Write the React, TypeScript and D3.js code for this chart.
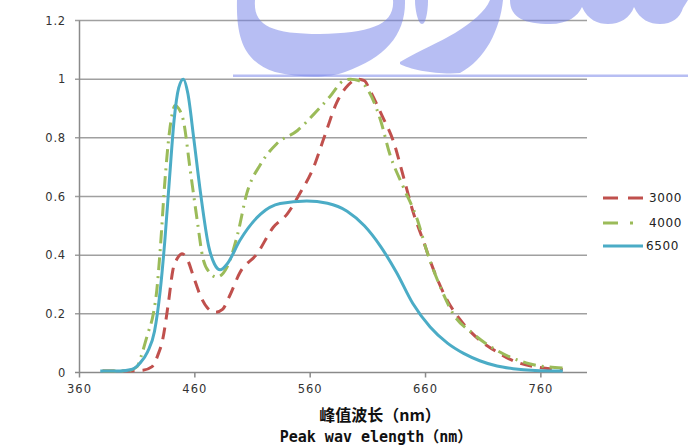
import React from "react";
import * as d3 from "d3";

const xTicks = [360, 460, 560, 660, 760];
const yTicks = [0, 0.2, 0.4, 0.6, 0.8, 1, 1.2];
const yTickLabels = ["0", "0.2", "0.4", "0.6", "0.8", "1", "1.2"];

const seriesNames = ["3000", "4000", "6500"];

const wl3000 = [380, 400, 415, 423, 428, 432, 437, 441, 445, 449, 453, 459, 465, 471, 478, 484, 490, 499, 514, 528, 540, 551, 563, 572, 583, 593, 601, 607, 612, 623, 632, 641, 649, 658, 666, 679, 690, 707, 722, 736, 759, 779];
const v3000 = [0.005, 0.005, 0.008, 0.02, 0.06, 0.11, 0.235, 0.35, 0.39, 0.405, 0.39, 0.325, 0.26, 0.22, 0.205, 0.215, 0.26, 0.34, 0.405, 0.495, 0.54, 0.61, 0.7, 0.8, 0.92, 0.98, 1.0, 0.995, 0.96, 0.87, 0.79, 0.665, 0.55, 0.45, 0.36, 0.245, 0.18, 0.11, 0.07, 0.04, 0.017, 0.01];

const wl4000 = [380, 400, 410, 413, 419, 424, 427, 430, 434, 438, 443, 446, 450, 456, 462, 467, 473, 479, 488, 497, 505, 517, 531, 549, 563, 577, 589, 595, 602, 609, 621, 629, 641, 653, 661, 673, 684, 701, 722, 750, 779];
const v4000 = [0.005, 0.005, 0.02, 0.05, 0.13, 0.2, 0.28, 0.42, 0.65, 0.82, 0.91, 0.9, 0.86, 0.69, 0.52, 0.39, 0.34, 0.325, 0.36, 0.47, 0.61, 0.71, 0.78, 0.825, 0.88, 0.94, 0.995, 1.0, 0.995, 0.97, 0.86, 0.745, 0.63, 0.52, 0.415, 0.29, 0.2, 0.133, 0.075, 0.03, 0.015];

const wl6500 = [378, 395, 405, 412, 419, 425, 430, 434, 438, 442, 446, 450, 454, 459, 465, 472, 477, 482, 488, 499, 517, 534, 557, 575, 592, 607, 621, 635, 649, 664, 679, 693, 707, 722, 736, 755, 779];
const v6500 = [0.005, 0.005, 0.01, 0.03, 0.07, 0.14, 0.28, 0.45, 0.66, 0.86, 0.97, 1.0, 0.95, 0.8, 0.61, 0.43, 0.37, 0.35, 0.37, 0.45, 0.54, 0.576, 0.585, 0.577, 0.55, 0.5, 0.43, 0.34, 0.235, 0.155, 0.1, 0.065, 0.04, 0.022, 0.013, 0.007, 0.005];

const colors = ["#c0504d", "#9bbb59", "#4bacc6"];
const dashes = ["12,8", "13,6,2,6", null];
const legendDashes = ["15,10", "15,12,3,30", null];
const legendEnds = [643, 634, 643];

const WATERMARK = [
  "M237,0 C236,40 245,62 275,72 C300,78 330,78 345,72 C385,58 406,35 405,0 L393,0 C395,25 370,33 320,34 C270,34 253,25 255,0 Z",
  "M415,0 L428,0 C428,10 426,24 422,24 C418,24 415,10 415,0 Z",
  "M400,62 C420,50 440,42 455,33 C472,22 485,12 490,0 L503,0 C500,30 485,60 460,73 C440,75 410,70 400,64 Z",
  "M510,0 C510,18 525,24 550,24 C568,24 578,16 582,7 C588,20 598,24 608,24 C620,24 630,18 634,7 C640,20 650,24 660,24 C672,24 680,18 683,8 L688,0 Z",
];

export default function App() {
  const W = 688;
  const H = 448;
  const x = d3.scaleLinear().domain([360, 800]).range([79.5, 587]);
  const y = d3.scaleLinear().domain([0, 1.2]).range([372.5, 20.5]);

  const series = [
    { wl: wl3000, v: v3000 },
    { wl: wl4000, v: v4000 },
    { wl: wl6500, v: v6500 },
  ];

  const line = d3
    .line<[number, number]>()
    .x((d) => x(d[0]))
    .y((d) => y(d[1]))
    .curve(d3.curveMonotoneX);

  const legendY = [198, 223, 246];
  const tickFont = "'DejaVu Sans', sans-serif";

  return (
    <svg
      width={W}
      height={H}
      style={{ position: "absolute", left: 0, top: 0, background: "#fff" }}
    >
      <rect x={0} y={0} width={W} height={H} fill="#fff" />
      {/* gridlines */}
      {yTicks.map((t, i) =>
        t === 0 ? null : (
          <line
            key={"g" + i}
            x1={75}
            x2={587}
            y1={y(t)}
            y2={y(t)}
            stroke="#a0a0a0"
            strokeWidth={1.5}
          />
        )
      )}
      {/* watermark */}
      <g fill="#6f7de8" fillOpacity={0.5}>
        {WATERMARK.map((d, i) => (
          <path key={"w" + i} d={d} />
        ))}
        <rect x={233} y={74.5} width={455} height={2.5} />
      </g>
      {/* axes */}
      <line x1={x(360)} x2={x(360)} y1={y(1.2)} y2={y(0)} stroke="#8a8a8a" strokeWidth={1.5} />
      <line x1={75} x2={587} y1={y(0)} y2={y(0)} stroke="#8a8a8a" strokeWidth={1.5} />
      {xTicks.map((t) => (
        <line key={"xt" + t} x1={x(t)} x2={x(t)} y1={y(0)} y2={y(0) + 5} stroke="#8a8a8a" strokeWidth={1.5} />
      ))}
      {/* tick labels */}
      {yTicks.map((t, i) => (
        <text
          key={"yl" + i}
          x={66}
          y={y(t)}
          dy="0.36em"
          textAnchor="end"
          fontFamily={tickFont}
          fontSize={11.5}
          letterSpacing={0.8}
          fill="#333"
        >
          {yTickLabels[i]}
        </text>
      ))}
      {xTicks.map((t) => (
        <text
          key={"xl" + t}
          x={x(t)}
          y={389}
          dy="0.36em"
          textAnchor="middle"
          fontFamily={tickFont}
          fontSize={11.5}
          letterSpacing={1}
          fill="#333"
        >
          {t}
        </text>
      ))}
      {/* series */}
      {series.map((s, i) => (
        <path
          key={"s" + i}
          d={line(s.wl.map((w, j) => [w, s.v[j]] as [number, number])) || ""}
          fill="none"
          stroke={colors[i]}
          strokeWidth={3}
          strokeDasharray={dashes[i] || undefined}
          strokeLinejoin="round"
        />
      ))}
      {/* legend */}
      {seriesNames.map((n, i) => (
        <g key={"lg" + i}>
          <line
            x1={603}
            x2={legendEnds[i]}
            y1={legendY[i]}
            y2={legendY[i]}
            stroke={colors[i]}
            strokeWidth={3}
            strokeDasharray={legendDashes[i] || undefined}
          />
          <text
            x={i === 2 ? 646 : 649}
            y={legendY[i]}
            dy="0.36em"
            fontFamily={tickFont}
            fontSize={12}
            letterSpacing={0.6}
            fill="#222"
          >
            {n}
          </text>
        </g>
      ))}
      {/* axis titles */}
      <text
        x={380}
        y={415}
        dy="0.36em"
        textAnchor="middle"
        fontFamily="'Noto Sans CJK SC', 'DejaVu Sans Mono', sans-serif"
        fontWeight="bold"
        fontSize={16}
        fill="#111"
      >
        峰值波长（nm）
      </text>
      <text
        x={376}
        y={437}
        dy="0.36em"
        textAnchor="middle"
        fontFamily="'DejaVu Sans Mono', 'Noto Sans CJK SC', monospace"
        fontWeight="bold"
        fontSize={15}
        fill="#111"
        style={{ whiteSpace: "pre" }}
      >
        Peak wav elength（nm）
      </text>
    </svg>
  );
}
